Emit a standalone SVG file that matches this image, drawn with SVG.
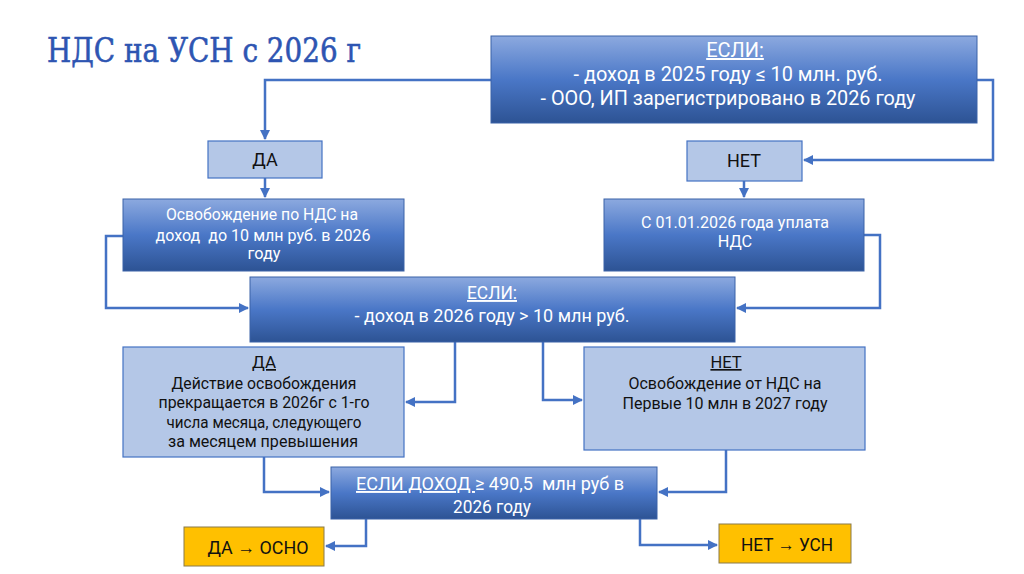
<svg xmlns="http://www.w3.org/2000/svg" width="1024" height="574" viewBox="0 0 1024 574">
<defs>
<linearGradient id="g" x1="0" y1="0" x2="0" y2="1">
<stop offset="0" stop-color="#8CA9DF"/>
<stop offset="0.5" stop-color="#4A77C7"/>
<stop offset="1" stop-color="#2D5394"/>
</linearGradient>
<marker id="a" viewBox="0 0 10 10" refX="9" refY="5" markerWidth="4" markerHeight="4" orient="auto">
<path d="M0,0 L10,5 L0,10 z" fill="#4472C4"/>
</marker>
<style>
.dk{fill:url(#g);stroke:#3A62A8;stroke-width:1}
.lt{fill:#B4C7E7;stroke:#4472C4;stroke-width:1.2}
.or{fill:#FFC000;stroke:#8A7A4A;stroke-width:1}
.w{font-family:Roboto,"Liberation Sans",sans-serif;fill:#fff;text-anchor:middle}
.b{font-family:Roboto,"Liberation Sans",sans-serif;fill:#111;text-anchor:middle}
.c{fill:none;stroke:#4472C4;stroke-width:2.5;marker-end:url(#a)}
.u{text-decoration:underline}
</style>
</defs>
<rect width="1024" height="574" fill="#fff"/>
<text x="47" y="62" font-family="'DejaVu Serif','Liberation Serif',serif" font-size="33" fill="#2E55B2" stroke="#2E55B2" stroke-width="0.6" textLength="314" lengthAdjust="spacingAndGlyphs">НДС на УСН с 2026 г</text>

<g id="connectors">
<path class="c" d="M491,80 H265 V139"/>
<path class="c" d="M977,80 H993 V160 H804"/>
<path class="c" d="M265,178 V197"/>
<path class="c" d="M744,181 V197"/>
<path class="c" d="M123,236 H106 V308 H248"/>
<path class="c" d="M864,235 H880 V308 H737"/>
<path class="c" d="M455,342 V402 H406"/>
<path class="c" d="M543,342 V400 H582"/>
<path class="c" d="M264,457 V492 H329"/>
<path class="c" d="M726,450 V492 H659"/>
<path class="c" d="M366,519 V546 H326"/>
<path class="c" d="M640,519 V545 H717"/>
</g>

<g id="n1"><rect class="dk" x="491" y="36" width="486" height="87"/>
<text class="w" font-size="20" x="735" y="57"><tspan class="u">ЕСЛИ:</tspan></text>
<text class="w" font-size="20" x="728" y="81" textLength="309" lengthAdjust="spacingAndGlyphs">- доход в 2025 году ≤ 10 млн. руб.</text>
<text class="w" font-size="20" x="728" y="105" textLength="375" lengthAdjust="spacingAndGlyphs">- ООО, ИП зарегистрировано в 2026 году</text></g>

<g id="n2"><rect class="lt" x="208" y="141" width="114" height="37"/>
<text class="b" font-size="18" x="265" y="166">ДА</text></g>

<g id="n3"><rect class="lt" x="687" y="141" width="115" height="40"/>
<text class="b" font-size="18" x="744" y="167">НЕТ</text></g>

<g id="n4"><rect class="dk" x="123" y="199" width="281" height="72"/>
<text class="w" font-size="16.3" x="262" y="220" textLength="192" lengthAdjust="spacingAndGlyphs">Освобождение по НДС на</text>
<text class="w" font-size="16.3" x="263" y="241" xml:space="preserve" textLength="215" lengthAdjust="spacingAndGlyphs">доход  до 10 млн руб. в 2026</text>
<text class="w" font-size="16.3" x="264" y="259">году</text></g>

<g id="n5"><rect class="dk" x="604" y="199" width="260" height="72"/>
<text class="w" font-size="16.3" x="735" y="228" textLength="188" lengthAdjust="spacingAndGlyphs">С 01.01.2026 года уплата</text>
<text class="w" font-size="16.3" x="735" y="247">НДС</text></g>

<g id="n6"><rect class="dk" x="250" y="277" width="485" height="65"/>
<text class="w" font-size="19" x="492" y="299"><tspan class="u" textLength="50" lengthAdjust="spacingAndGlyphs">ЕСЛИ:</tspan></text>
<text class="w" font-size="19" x="492" y="322" textLength="275" lengthAdjust="spacingAndGlyphs">- доход в 2026 году &gt; 10 млн руб.</text></g>

<g id="n7"><rect class="lt" x="123" y="347" width="281" height="110"/>
<text class="b" font-size="17" x="264" y="368"><tspan class="u">ДА</tspan></text>
<text class="b" font-size="17" x="264" y="389" textLength="185" lengthAdjust="spacingAndGlyphs">Действие освобождения</text>
<text class="b" font-size="17" x="264" y="408" textLength="211" lengthAdjust="spacingAndGlyphs">прекращается в 2026г с 1-го</text>
<text class="b" font-size="17" x="264" y="428" textLength="195" lengthAdjust="spacingAndGlyphs">числа месяца, следующего</text>
<text class="b" font-size="17" x="263" y="447" textLength="190" lengthAdjust="spacingAndGlyphs">за месяцем превышения</text></g>

<g id="n8"><rect class="lt" x="584" y="347" width="281" height="103"/>
<text class="b" font-size="16.5" x="726" y="368"><tspan class="u">НЕТ</tspan></text>
<text class="b" font-size="16.5" x="725" y="389" textLength="193" lengthAdjust="spacingAndGlyphs">Освобождение от НДС на</text>
<text class="b" font-size="16.5" x="725" y="409" textLength="205" lengthAdjust="spacingAndGlyphs">Первые 10 млн в 2027 году</text></g>

<g id="n9"><rect class="dk" x="331" y="467" width="326" height="52"/>
<text class="w" font-size="19" x="490" y="490" xml:space="preserve" textLength="268" lengthAdjust="spacingAndGlyphs"><tspan class="u">ЕСЛИ ДОХОД </tspan>≥ 490,5  млн руб в</text>
<text class="w" font-size="19" x="492" y="513" textLength="78" lengthAdjust="spacingAndGlyphs">2026 году</text></g>

<g id="n10"><rect class="or" x="184" y="527" width="140" height="39"/>
<text class="b" font-size="19" x="258" y="554" textLength="101" lengthAdjust="spacingAndGlyphs">ДА → ОСНО</text></g>

<g id="n11"><rect class="or" x="719" y="524" width="132" height="39"/>
<text class="b" font-size="19" x="787" y="551" textLength="92" lengthAdjust="spacingAndGlyphs">НЕТ → УСН</text></g>
</svg>
